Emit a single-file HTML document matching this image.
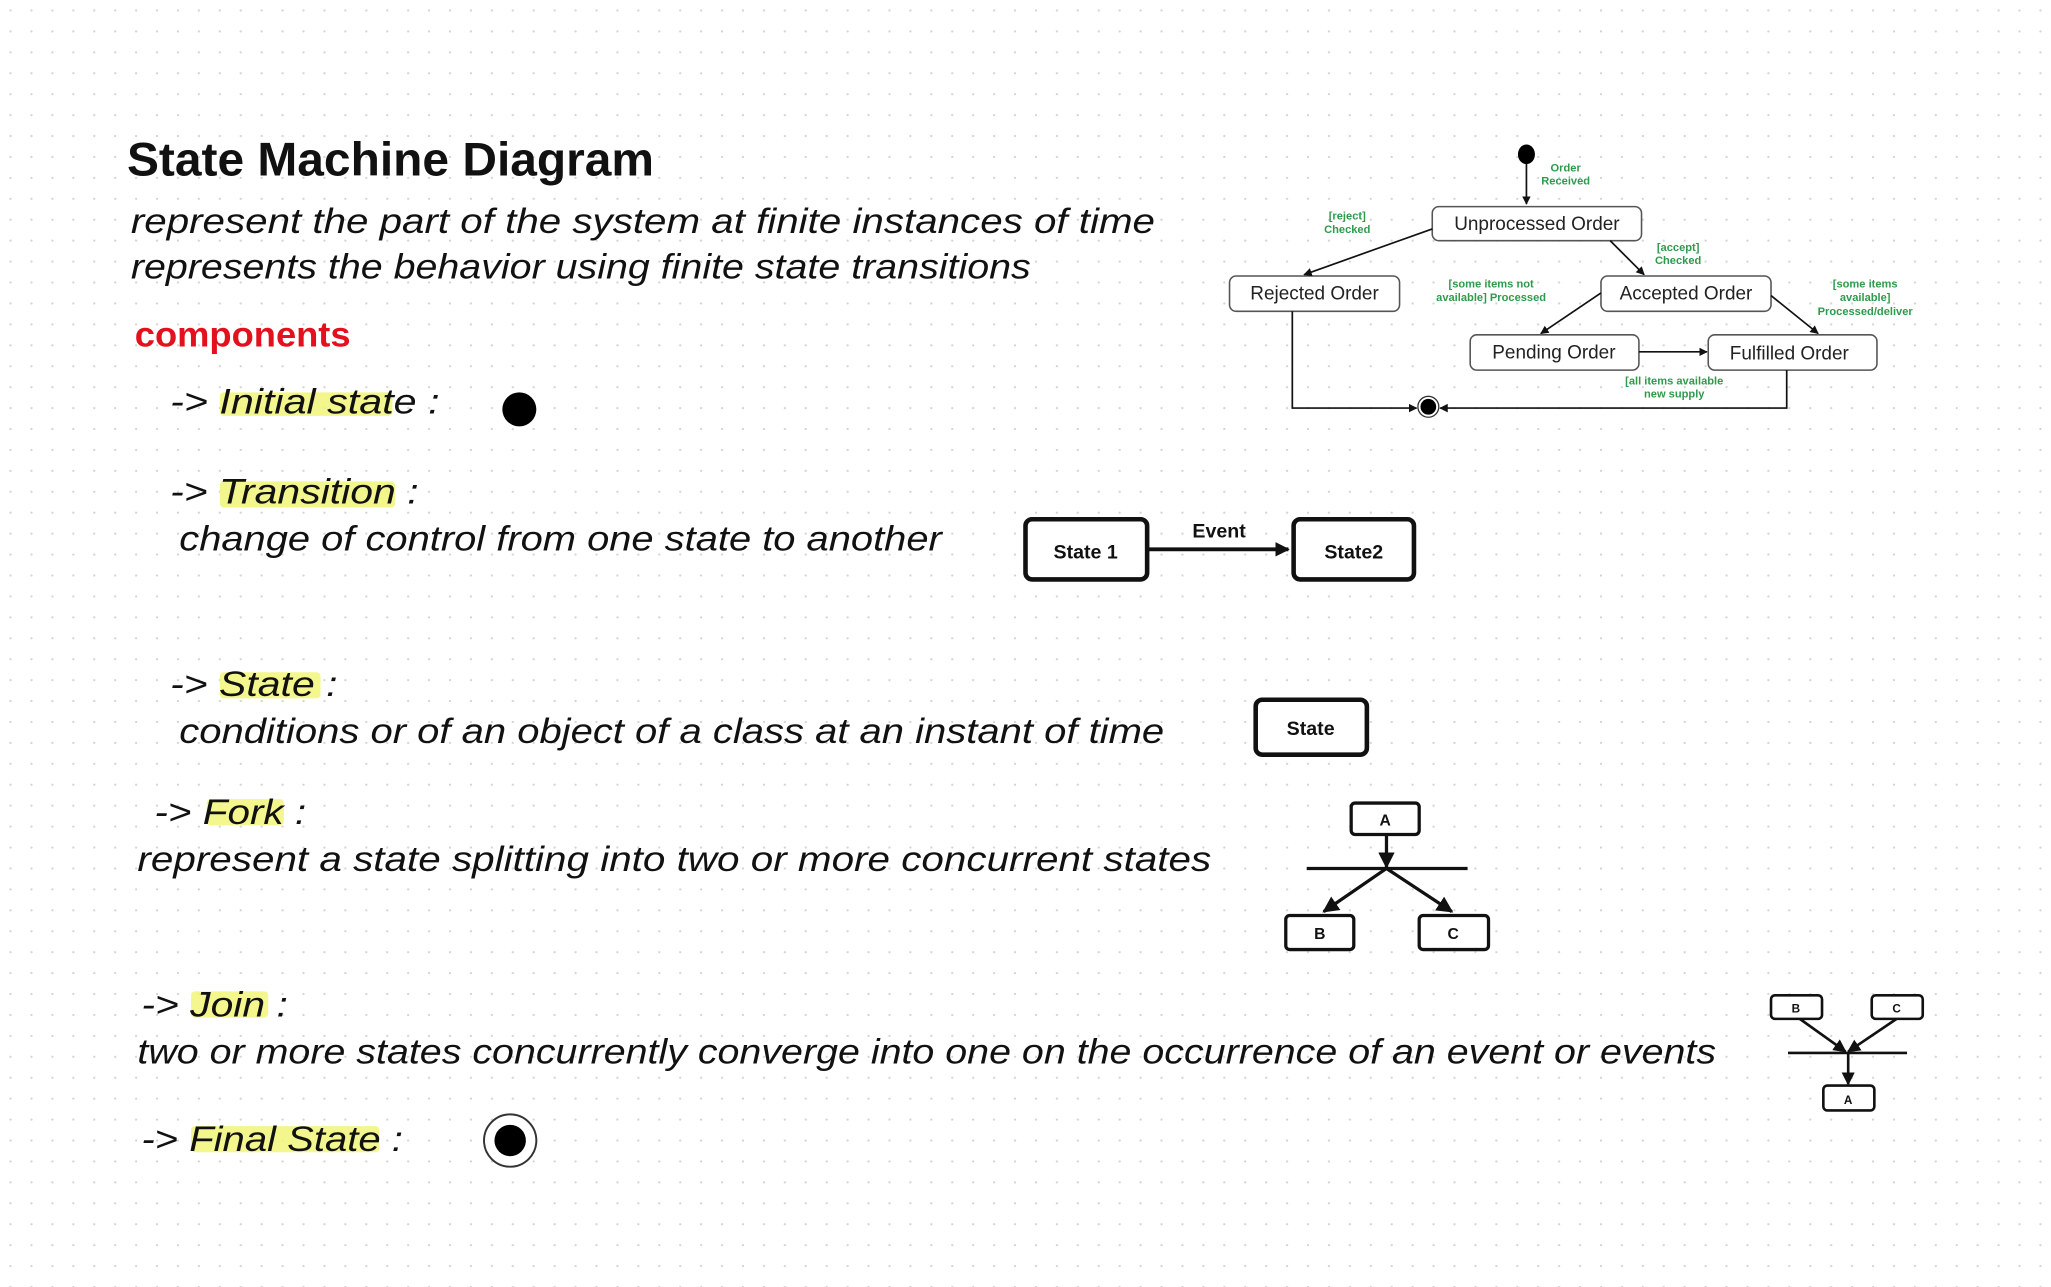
<!DOCTYPE html>
<html><head><meta charset="utf-8"><style>
html,body{margin:0;padding:0;background:#fff;width:2051px;height:1287px;overflow:hidden}
svg{display:block}
.h{font-family:"Liberation Sans",sans-serif;font-style:italic;font-size:27px;fill:#111}
.g{font-family:"Liberation Sans",sans-serif;font-weight:bold;font-size:8.5px;fill:#2f9a4c}
.n{font-family:"Liberation Sans",sans-serif;font-size:14.5px;fill:#222}
.b{font-family:"Liberation Sans",sans-serif;font-weight:bold;fill:#111}
</style></head><body>
<svg width="2051" height="1287" viewBox="0 0 1568 984" xmlns="http://www.w3.org/2000/svg">
<defs>
<pattern id="d" width="16" height="16" patternUnits="userSpaceOnUse"><circle cx="8" cy="8" r="0.9" fill="#d4d4d4"/></pattern>
<marker id="a" viewBox="0 0 10 10" refX="9" refY="5" markerWidth="11" markerHeight="11" markerUnits="userSpaceOnUse" orient="auto"><path d="M0,0L10,5L0,10z" fill="#111"/></marker>
<marker id="s" viewBox="0 0 10 10" refX="9" refY="5" markerWidth="5" markerHeight="5" orient="auto"><path d="M0,0L10,5L0,10z" fill="#111"/></marker>
</defs>
<rect width="1568" height="984" fill="#fff"/>
<rect width="1568" height="984" fill="url(#d)"/>

<text x="97" y="134" class="b" font-size="36" textLength="403" lengthAdjust="spacingAndGlyphs">State Machine Diagram</text>
<text x="100" y="178" class="h" textLength="783" lengthAdjust="spacingAndGlyphs">represent the part of the system at finite instances of time</text>
<text x="100" y="213" class="h" textLength="688" lengthAdjust="spacingAndGlyphs">represents the behavior using finite state transitions</text>
<text x="103" y="265" font-family="Liberation Sans,sans-serif" font-weight="bold" font-size="27" fill="#e3101e" textLength="165" lengthAdjust="spacingAndGlyphs">components</text>

<g fill="#f2f57a" opacity="0.85">
<rect x="168" y="300" width="132" height="18" rx="3"/>
<rect x="168" y="368" width="134" height="20" rx="3"/>
<rect x="168" y="514" width="77" height="20" rx="3"/>
<rect x="158" y="611" width="59" height="20" rx="3"/>
<rect x="146" y="758" width="59" height="20" rx="3"/>
<rect x="146" y="861" width="144" height="20" rx="3"/>
</g>

<text x="130" y="316" class="h" textLength="206" lengthAdjust="spacingAndGlyphs">-&gt; Initial state :</text>
<ellipse cx="397" cy="313" rx="13" ry="13" fill="#000"/>

<text x="130" y="385" class="h" textLength="190" lengthAdjust="spacingAndGlyphs">-&gt; Transition :</text>
<text x="137" y="421" class="h" textLength="583" lengthAdjust="spacingAndGlyphs">change of control from one state to another</text>
<rect x="784" y="397" width="93" height="46" rx="5" fill="#fff" stroke="#111" stroke-width="3.5"/>
<text x="830" y="427" class="b" font-size="15" text-anchor="middle">State 1</text>
<rect x="989" y="397" width="92" height="46" rx="5" fill="#fff" stroke="#111" stroke-width="3.5"/>
<text x="1035" y="427" class="b" font-size="15" text-anchor="middle">State2</text>
<line x1="877" y1="420" x2="985" y2="420" stroke="#111" stroke-width="3" marker-end="url(#a)"/>
<text x="932" y="411" class="b" font-size="15" text-anchor="middle">Event</text>

<text x="130" y="532" class="h" textLength="128" lengthAdjust="spacingAndGlyphs">-&gt; State :</text>
<text x="137" y="568" class="h" textLength="753" lengthAdjust="spacingAndGlyphs">conditions or of an object of a class at an instant of time</text>
<rect x="960" y="535" width="85" height="42" rx="5" fill="#fff" stroke="#111" stroke-width="3.5"/>
<text x="1002" y="562" class="b" font-size="15" text-anchor="middle">State</text>

<text x="118" y="630" class="h" textLength="116" lengthAdjust="spacingAndGlyphs">-&gt; Fork :</text>
<text x="105" y="666" class="h" textLength="821" lengthAdjust="spacingAndGlyphs">represent a state splitting into two or more concurrent states</text>
<rect x="1033" y="614" width="52" height="24" rx="3" fill="#fff" stroke="#111" stroke-width="2.5"/>
<text x="1059" y="631" class="b" font-size="12" text-anchor="middle">A</text>
<line x1="999" y1="664" x2="1122" y2="664" stroke="#111" stroke-width="2.5"/>
<line x1="1060" y1="638" x2="1060" y2="663" stroke="#111" stroke-width="2.5" marker-end="url(#s)"/>
<line x1="1060" y1="664" x2="1012" y2="697" stroke="#111" stroke-width="2.5" marker-end="url(#s)"/>
<line x1="1060" y1="664" x2="1110" y2="697" stroke="#111" stroke-width="2.5" marker-end="url(#s)"/>
<rect x="983" y="700" width="52" height="26" rx="3" fill="#fff" stroke="#111" stroke-width="2.5"/>
<text x="1009" y="718" class="b" font-size="12" text-anchor="middle">B</text>
<rect x="1085" y="700" width="53" height="26" rx="3" fill="#fff" stroke="#111" stroke-width="2.5"/>
<text x="1111" y="718" class="b" font-size="12" text-anchor="middle">C</text>

<text x="108" y="777" class="h" textLength="112" lengthAdjust="spacingAndGlyphs">-&gt; Join :</text>
<text x="105" y="813" class="h" textLength="1207" lengthAdjust="spacingAndGlyphs">two or more states concurrently converge into one on the occurrence of an event or events</text>
<rect x="1354" y="761" width="39" height="18" rx="3" fill="#fff" stroke="#111" stroke-width="2"/>
<text x="1373" y="774" class="b" font-size="9" text-anchor="middle">B</text>
<rect x="1431" y="761" width="39" height="18" rx="3" fill="#fff" stroke="#111" stroke-width="2"/>
<text x="1450" y="774" class="b" font-size="9" text-anchor="middle">C</text>
<line x1="1367" y1="805" x2="1458" y2="805" stroke="#111" stroke-width="2"/>
<line x1="1376" y1="779" x2="1411" y2="804" stroke="#111" stroke-width="2" marker-end="url(#s)"/>
<line x1="1450" y1="779" x2="1413" y2="804" stroke="#111" stroke-width="2" marker-end="url(#s)"/>
<line x1="1413" y1="805" x2="1413" y2="829" stroke="#111" stroke-width="2" marker-end="url(#s)"/>
<rect x="1394" y="830" width="39" height="19" rx="3" fill="#fff" stroke="#111" stroke-width="2"/>
<text x="1413" y="844" class="b" font-size="9" text-anchor="middle">A</text>

<text x="108" y="880" class="h" textLength="200" lengthAdjust="spacingAndGlyphs">-&gt; Final State :</text>
<circle cx="390" cy="872" r="20" fill="#fff" stroke="#333" stroke-width="1.5"/>
<circle cx="390" cy="872" r="12" fill="#000"/>

<ellipse cx="1167" cy="118" rx="6.5" ry="7.5" fill="#000"/>
<line x1="1167" y1="125" x2="1167" y2="156" stroke="#111" stroke-width="1.3" marker-end="url(#s)"/>
<text x="1197" y="131" class="g" text-anchor="middle">Order</text>
<text x="1197" y="141" class="g" text-anchor="middle">Received</text>
<g fill="#fff" stroke="#555" stroke-width="1.2">
<rect x="1095" y="158" width="160" height="26" rx="5"/>
<rect x="940" y="211" width="130" height="27" rx="5"/>
<rect x="1224" y="211" width="130" height="27" rx="5"/>
<rect x="1124" y="256" width="129" height="27" rx="5"/>
<rect x="1306" y="256" width="129" height="27" rx="5"/>
</g>
<text x="1175" y="176" class="n" text-anchor="middle">Unprocessed Order</text>
<text x="1005" y="229" class="n" text-anchor="middle">Rejected Order</text>
<text x="1289" y="229" class="n" text-anchor="middle">Accepted Order</text>
<text x="1188" y="274" class="n" text-anchor="middle">Pending Order</text>
<text x="1368" y="275" class="n" text-anchor="middle">Fulfilled Order</text>
<g stroke="#111" stroke-width="1.3" fill="none">
<line x1="1095" y1="175" x2="997" y2="210" marker-end="url(#s)"/>
<line x1="1231" y1="184" x2="1257" y2="210" marker-end="url(#s)"/>
<line x1="1224" y1="224" x2="1178" y2="255" marker-end="url(#s)"/>
<line x1="1354" y1="226" x2="1390" y2="255" marker-end="url(#s)"/>
<line x1="1253" y1="269" x2="1305" y2="269" marker-end="url(#s)"/>
<polyline points="988,238 988,312 1083,312" marker-end="url(#s)"/>
<polyline points="1366,283 1366,312 1101,312" marker-end="url(#s)"/>
</g>
<circle cx="1092" cy="311" r="8" fill="#fff" stroke="#333" stroke-width="1"/>
<circle cx="1092" cy="311" r="6" fill="#000"/>
<text x="1030" y="168" class="g" text-anchor="middle">[reject]</text>
<text x="1030" y="178" class="g" text-anchor="middle">Checked</text>
<text x="1283" y="192" class="g" text-anchor="middle">[accept]</text>
<text x="1283" y="202" class="g" text-anchor="middle">Checked</text>
<text x="1140" y="220" class="g" text-anchor="middle">[some items not</text>
<text x="1140" y="230" class="g" text-anchor="middle">available] Processed</text>
<text x="1426" y="220" class="g" text-anchor="middle">[some items</text>
<text x="1426" y="230" class="g" text-anchor="middle">available]</text>
<text x="1426" y="241" class="g" text-anchor="middle">Processed/deliver</text>
<text x="1280" y="294" class="g" text-anchor="middle">[all items available</text>
<text x="1280" y="304" class="g" text-anchor="middle">new supply</text>
</svg>
</body></html>
